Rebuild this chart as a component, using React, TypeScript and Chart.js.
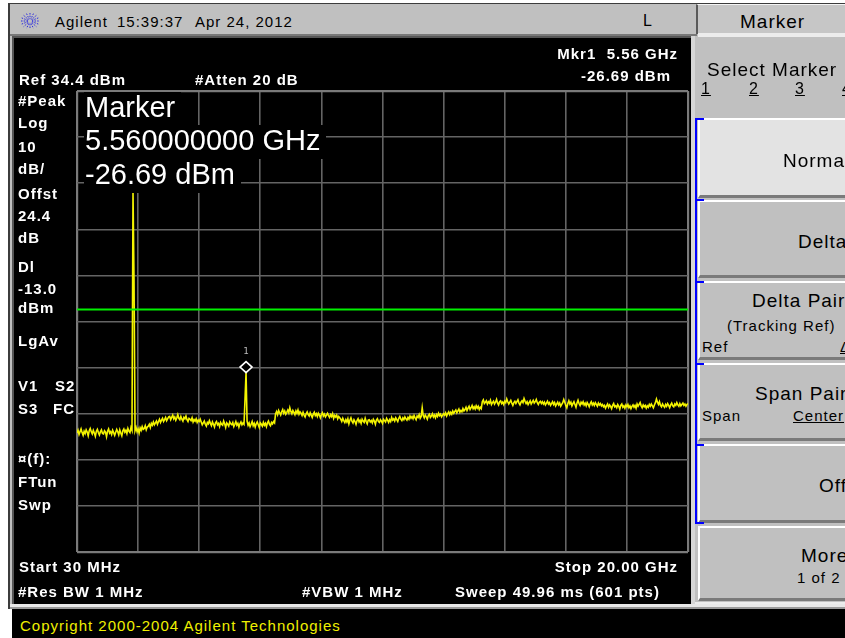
import React, { useEffect, useRef } from "react";
import { Chart, registerables } from "chart.js";

Chart.register(...registerables);

// ---- sweep / scale settings ----
const START_GHZ = 0.03;
const STOP_GHZ = 20.0;
const SWEEP_POINTS = 601;
const REF_LEVEL_DBM = 34.4;
const SCALE_DB_PER_DIV = 10;
const GRID_DIVISIONS = 10;
const DISPLAY_LINE_DBM = -13.0;
const MARKER_INDEX = 166;
const MARKER_NAME = "1";

// ---- trace (601 points, dBm) ----
const TRACE_DBM: number[] = [
  -39.8, -39.2, -40.1, -39.5, -38.9, -39.7, -40.3, -39.4, -39.9, -39.1,
  -39.6, -40.4, -39.3, -38.8, -39.5, -40.0, -39.2, -39.8, -40.5, -39.4,
  -39.0, -39.7, -40.2, -39.5, -39.1, -39.9, -40.0, -39.3, -39.6, -40.6,
  -39.4, -38.9, -39.8, -39.5, -40.1, -39.2, -39.7, -40.3, -39.6, -39.0,
  -39.5, -40.2, -39.1, -39.8, -40.4, -39.3, -38.9, -39.6, -39.2, -39.9,
  -38.8, -39.4, -39.7, -38.6, -39.2,
  12.6, -7.0,
  -39.3, -38.6, -39.5, -38.9, -39.8, -38.7, -39.2, -38.4, -39.0, -38.8, -38.2, -39.1, -38.5,
  -38.3, -37.9, -38.6, -37.7, -38.1, -37.4, -38.0, -37.6, -37.2, -37.9,
  -37.3, -36.8, -37.5, -37.0, -36.6, -37.3, -36.9, -36.4, -37.1, -36.7, -36.3,
  -36.2, -36.9, -36.4, -35.9, -36.7, -36.3, -37.0, -36.5, -35.8, -36.6,
  -36.9, -36.2, -36.8, -37.2, -36.4, -36.7, -36.1, -36.9, -37.3, -36.6,
  -36.8, -37.1, -36.5, -37.4, -36.9, -37.2, -36.7, -37.5, -37.0, -37.3,
  -36.8,
  -37.4, -38.0, -37.6, -37.2, -37.9, -38.3, -37.5, -37.8, -37.1, -37.7,
  -38.2, -37.4, -37.9, -38.5, -37.6, -37.3, -38.0, -37.7, -38.4, -37.5,
  -37.9, -38.1, -37.2, -37.8, -38.6, -37.6, -37.9, -38.3, -37.4, -37.8,
  -38.0, -37.5, -38.4, -37.9, -37.3, -38.1, -37.7, -38.5, -37.8, -37.4,
  -38.0, -37.6, -37.9,
  -32.4, -26.69,
  -37.2, -38.1, -37.6, -38.4, -37.9, -37.3, -38.2, -37.7, -38.5, -37.8,
  -37.4, -38.0, -38.6, -37.6, -37.9, -38.3, -37.5, -38.1, -37.7, -38.4,
  -37.6, -37.2, -37.9, -38.2, -37.5, -37.8, -37.3, -37.6,
  -35.6, -35.1, -35.8, -34.9, -35.4, -35.9, -35.2, -34.7, -35.5, -35.0,
  -35.7, -35.3, -34.8, -35.4, -34.3, -35.1, -35.6, -34.9, -35.3, -35.8,
  -35.0, -35.5, -34.8, -35.7, -35.2,
  -35.5, -36.0, -35.3, -35.9, -36.3, -35.6, -35.2, -35.8, -36.1, -35.4,
  -35.9, -36.4, -35.7, -35.3, -36.0, -35.6, -36.2, -35.5, -35.9, -36.5,
  -35.8, -35.4, -36.1, -35.7, -36.3, -35.9, -35.5, -36.0, -36.4, -35.8,
  -36.2, -35.6, -36.6, -36.0, -36.3, -35.9, -36.7, -36.2, -36.5,
  -36.8, -37.3, -36.6, -37.1, -37.5, -36.9, -37.4, -36.7, -37.8, -37.0,
  -36.5, -37.2, -37.6, -36.9, -37.3, -37.9, -37.1, -36.7, -37.4, -37.0,
  -37.7, -36.8, -37.2, -37.5, -36.6, -37.3, -37.8, -37.0, -36.9, -37.4,
  -37.1, -37.6, -36.8, -37.2, -37.9, -37.0, -36.7, -37.3, -37.5, -36.9,
  -37.2, -37.7, -36.8, -37.1, -37.4, -36.6, -37.0, -37.5, -36.9, -37.3,
  -36.4, -37.0, -36.7, -37.2, -36.5, -36.9, -37.3, -36.6, -36.2, -36.8,
  -37.1, -36.5, -36.9, -36.3, -36.7, -37.0, -36.4, -36.8, -36.1, -36.6,
  -36.2, -36.7, -36.0, -36.5, -36.9, -36.1, -36.4, -35.8, -36.6, -36.2,
  -34.3, -36.0, -36.5, -35.9, -36.3, -36.8, -36.0, -35.7, -36.4, -36.1,
  -35.6, -36.3, -35.9, -36.5, -35.8, -36.2, -35.5, -36.0, -35.7, -36.3,
  -35.9, -35.6,
  -35.9, -35.4, -36.1, -35.6, -35.2, -35.8, -35.3, -35.7, -35.0, -35.5,
  -35.1, -34.8, -35.4, -35.0, -34.6, -35.3, -34.9, -35.2, -34.5, -35.0,
  -34.7, -34.2, -34.9, -34.4, -34.0, -34.7, -34.3, -33.8, -34.5, -34.1,
  -34.6, -33.9, -34.4, -34.0, -34.7, -34.2, -34.5,
  -33.0, -32.6, -33.4, -33.1, -32.8, -33.5, -33.0, -33.3, -32.7, -33.6,
  -33.2, -32.9, -33.5, -33.1, -32.5, -33.3, -33.7, -33.0, -32.8, -33.4,
  -33.1, -33.6, -32.9, -33.2, -32.4, -33.0, -33.5, -33.1, -32.7, -33.3,
  -33.8, -33.2, -32.9, -33.4, -33.0, -32.6, -33.3, -33.7, -33.1, -32.8,
  -33.2, -32.3, -32.9, -33.4, -33.0, -33.6, -33.2, -32.8, -33.5, -33.1,
  -32.7, -33.3, -33.0, -32.5, -33.2, -33.6, -33.1, -32.9, -33.4, -33.0,
  -33.5, -33.1, -33.7, -33.3, -32.9, -33.5, -33.2, -33.8, -33.4, -33.0,
  -33.6, -33.2, -33.9, -33.5, -33.1, -33.7, -33.3, -34.0, -33.6, -33.2,
  -32.5, -33.1, -33.8, -34.3, -33.4, -32.8, -33.5, -33.1, -33.9, -33.4,
  -33.0, -33.6, -34.2, -33.3, -32.7, -33.4, -33.8, -33.1, -33.5, -33.0,
  -33.7, -33.3, -33.9, -33.2, -33.6, -34.1, -33.4, -33.0, -33.7, -33.3,
  -33.8, -33.2, -33.6, -34.0, -33.3, -33.7, -33.4, -33.9,
  -33.6, -34.1, -33.8, -34.4, -33.9, -33.5, -34.2, -33.7, -34.0, -34.5,
  -33.8, -33.4, -34.1, -33.9, -34.3, -33.6, -34.0, -34.6, -33.8, -33.5,
  -34.2, -33.9, -34.4, -33.7, -34.1, -33.6, -34.3, -33.9, -34.5, -34.0,
  -33.7, -34.2, -33.8, -34.4, -33.5, -34.0, -33.6, -33.2, -33.9, -34.3,
  -33.7, -34.1, -33.8, -34.4, -33.9, -34.2, -33.6, -34.0, -33.5, -33.9,
  -34.3, -33.7, -33.2, -32.4, -33.1, -33.6, -33.0, -33.8, -34.1, -33.5,
  -33.9, -34.2, -33.6, -34.0, -33.4, -33.8, -34.3, -33.7, -33.3, -33.9,
  -34.1, -33.5, -33.8, -33.2, -33.7, -34.0, -33.4, -33.9, -33.6, -33.3,
  -33.8, -33.5, -34.0, -33.6, -33.4,
];

// ---- annotation texts ----
const TITLE_BRAND = "Agilent";
const TITLE_TIME = "15:39:37";
const TITLE_DATE = "Apr 24, 2012";
const MARKER_READOUT = ["Marker", "5.560000000 GHz", "-26.69 dBm"];
const COPYRIGHT = "Copyright 2000-2004 Agilent Technologies";

const FONT = '"Liberation Sans", Arial, Helvetica, sans-serif';
const W = 845;

function sweepFreq(i: number) {
  return START_GHZ + (i * (STOP_GHZ - START_GHZ)) / (SWEEP_POINTS - 1);
}

type TxtProps = {
  x?: number;
  r?: number;
  y: number;
  size?: number;
  bold?: boolean;
  color?: string;
  ls?: number;
  u?: boolean;
  children: React.ReactNode;
};

function Txt({ x, r, y, size = 15, bold = true, color = "#fff", ls = 1, u = false, children }: TxtProps) {
  const lh = size + 6;
  const style: React.CSSProperties = {
    position: "absolute",
    top: y - lh / 2,
    height: lh,
    lineHeight: lh + "px",
    fontSize: size,
    fontWeight: bold ? 700 : 400,
    color,
    letterSpacing: ls,
    whiteSpace: "pre",
    fontFamily: FONT,
    textDecoration: u ? "underline" : "none",
    zIndex: 5,
  };
  if (r !== undefined) style.right = W - r;
  else style.left = x;
  return <div style={style}>{children}</div>;
}

function Box({ x, y, w, h, bg, style }: { x: number; y: number; w: number; h: number; bg?: string; style?: React.CSSProperties }) {
  return (
    <div
      style={{
        position: "absolute",
        left: x,
        top: y,
        width: w,
        height: h,
        background: bg,
        boxSizing: "border-box",
        ...style,
      }}
    />
  );
}

const keyBorder: React.CSSProperties = {
  borderTop: "2px solid #ffffff",
  borderLeft: "2px solid #ffffff",
  borderBottom: "3px solid #7a7a7a",
};

const markerPlugin = {
  id: "markerDiamond",
  afterDatasetsDraw(chart: any) {
    const { ctx, scales } = chart;
    const px = scales.x.getPixelForValue(sweepFreq(MARKER_INDEX));
    const py = scales.y.getPixelForValue(TRACE_DBM[MARKER_INDEX]);
    const rx = 6;
    const ry = 5.5;
    ctx.save();
    ctx.beginPath();
    ctx.moveTo(px, py - 2 * ry);
    ctx.lineTo(px + rx, py - ry);
    ctx.lineTo(px, py);
    ctx.lineTo(px - rx, py - ry);
    ctx.closePath();
    ctx.fillStyle = "#000";
    ctx.fill();
    ctx.strokeStyle = "#ffffff";
    ctx.lineWidth = 1.6;
    ctx.stroke();
    ctx.fillStyle = "#bdbdbd";
    ctx.font = '9px "DejaVu Sans Mono", monospace';
    ctx.textAlign = "center";
    ctx.textBaseline = "middle";
    ctx.fillText(MARKER_NAME, px, py - 2 * ry - 10);
    ctx.restore();
  },
};

function tenDivisions(axis: any) {
  const ticks = [];
  for (let k = 0; k <= GRID_DIVISIONS; k++) {
    ticks.push({ value: axis.min + (k * (axis.max - axis.min)) / GRID_DIVISIONS });
  }
  axis.ticks = ticks;
}

const gridColor = (c: any) => (c.index === 0 || c.index === GRID_DIVISIONS ? "#7a7a7a" : "#646464");
const gridWidth = (c: any) => (c.index === 0 || c.index === GRID_DIVISIONS ? 2.2 : 1.6);

function Analyzer() {
  const ref = useRef<HTMLCanvasElement | null>(null);
  useEffect(() => {
    if (!ref.current) return;
    const trace = TRACE_DBM.map((v, i) => ({ x: sweepFreq(i), y: v }));
    const chart = new Chart(ref.current, {
      type: "line",
      data: {
        datasets: [
          {
            data: [
              { x: START_GHZ, y: DISPLAY_LINE_DBM },
              { x: STOP_GHZ, y: DISPLAY_LINE_DBM },
            ],
            borderColor: "#00f000",
            borderWidth: 1.8,
            pointRadius: 0,
            order: 0,
          },
          {
            data: trace,
            borderColor: "#f4f400",
            borderWidth: 1.6,
            pointRadius: 0,
            tension: 0,
            order: 1,
          },
        ],
      },
      options: {
        responsive: false,
        animation: false,
        events: [],
        layout: { padding: { left: 63, top: 53, right: 3, bottom: 52 } },
        plugins: { legend: { display: false }, tooltip: { enabled: false } },
        scales: {
          x: {
            type: "linear",
            min: START_GHZ,
            max: STOP_GHZ,
            afterBuildTicks: tenDivisions,
            ticks: { display: false },
            border: { display: false },
            grid: { drawTicks: false, color: gridColor, lineWidth: gridWidth },
          },
          y: {
            type: "linear",
            min: REF_LEVEL_DBM - SCALE_DB_PER_DIV * GRID_DIVISIONS,
            max: REF_LEVEL_DBM,
            afterBuildTicks: tenDivisions,
            ticks: { display: false },
            border: { display: false },
            grid: { drawTicks: false, color: gridColor, lineWidth: gridWidth },
          },
        },
      },
      plugins: [markerPlugin],
    } as any);
    return () => chart.destroy();
  }, []);
  return (
    <canvas
      ref={ref}
      width={677}
      height={566}
      style={{ position: "absolute", left: 14, top: 38, width: 677, height: 566, zIndex: 2 }}
    />
  );
}

function Logo() {
  const spokes = [0, 22.5, 45, 67.5, 90, 112.5, 135, 157.5];
  return (
    <svg width="22" height="20" viewBox="-11 -10 22 20" style={{ position: "absolute", left: 19, top: 11, zIndex: 5 }}>
      {spokes.map((a) => {
        const rad = (a * Math.PI) / 180;
        return (
          <line
            key={a}
            x1={-9 * Math.cos(rad)}
            y1={-8 * Math.sin(rad)}
            x2={9 * Math.cos(rad)}
            y2={8 * Math.sin(rad)}
            stroke="#2a2ae0"
            strokeWidth="1"
            strokeDasharray="1.5 1.2"
          />
        );
      })}
      <circle cx="0" cy="0" r="2" fill="#c0c0c0" />
    </svg>
  );
}

export default function App() {
  const readoutTops = [92, 125, 159];
  return (
    <div
      style={{
        position: "absolute",
        left: 0,
        top: 0,
        width: W,
        height: 638,
        overflow: "hidden",
        background: "#ffffff",
        fontFamily: FONT,
      }}
    >
      {/* instrument frame */}
      <Box x={8} y={3} w={840} h={606} bg="#c0c0c0" style={{ borderLeft: "2px solid #3c3c3c", borderTop: "1px solid #3c3c3c" }} />
      {/* title bar */}
      <Logo />
      <Txt x={55} y={21} size={15} bold={false} color="#000">{TITLE_BRAND}</Txt>
      <Txt x={117} y={21} size={15} bold={false} color="#000">{TITLE_TIME}</Txt>
      <Txt x={195} y={21} size={15} bold={false} color="#000">{TITLE_DATE}</Txt>
      <Txt x={643} y={21} size={16} bold={false} color="#000">L</Txt>
      <Box x={10} y={34} w={687} h={2} bg="#787878" />
      {/* menu title */}
      <Box x={696} y={4} w={152} h={30} bg="#c6c6c6" style={{ borderLeft: "2px solid #5a5a5a", borderTop: "1px solid #f4f4f4" }} />
      <Box x={698} y={33} w={150} h={4} bg="#ececec" />
      <Txt x={740} y={21} size={19} bold={false} color="#000">Marker</Txt>

      {/* screen */}
      <Box x={12} y={36} w={681} h={570} bg="#565656" />
      <Box x={14} y={38} w={677} h={566} bg="#000000" />
      <Box x={691} y={36} w={4} h={570} bg="#d6d6d6" />
      <Analyzer />

      {/* screen annotations */}
      <Txt r={678} y={53}>Mkr1  5.56 GHz</Txt>
      <Txt r={671} y={75}>-26.69 dBm</Txt>
      <Txt x={19} y={79}>Ref 34.4 dBm</Txt>
      <Txt x={195} y={79}>#Atten 20 dB</Txt>

      <Txt x={18} y={100}>#Peak</Txt>
      <Txt x={18} y={122}>Log</Txt>
      <Txt x={18} y={146}>10</Txt>
      <Txt x={18} y={168}>dB/</Txt>
      <Txt x={18} y={193}>Offst</Txt>
      <Txt x={18} y={215}>24.4</Txt>
      <Txt x={18} y={237}>dB</Txt>
      <Txt x={18} y={266}>Dl</Txt>
      <Txt x={18} y={288}>-13.0</Txt>
      <Txt x={18} y={307}>dBm</Txt>
      <Txt x={18} y={340}>LgAv</Txt>
      <Txt x={18} y={385}>V1</Txt>
      <Txt x={55} y={385}>S2</Txt>
      <Txt x={18} y={408}>S3</Txt>
      <Txt x={53} y={408}>FC</Txt>
      <Txt x={18} y={458}>¤(f):</Txt>
      <Txt x={18} y={481}>FTun</Txt>
      <Txt x={18} y={504}>Swp</Txt>

      <Txt x={19} y={566}>Start 30 MHz</Txt>
      <Txt r={678} y={566}>Stop 20.00 GHz</Txt>
      <Txt x={18} y={591}>#Res BW 1 MHz</Txt>
      <Txt x={302} y={591}>#VBW 1 MHz</Txt>
      <Txt x={455} y={591}>Sweep 49.96 ms (601 pts)</Txt>

      {/* large marker readout */}
      {MARKER_READOUT.map((t, i) => (
        <div
          key={t}
          style={{
            position: "absolute",
            left: 84,
            top: readoutTops[i],
            height: 34,
            lineHeight: "30px",
            paddingLeft: 1,
            paddingRight: 6,
            background: "#000",
            color: "#fff",
            fontFamily: FONT,
            fontSize: 29,
            whiteSpace: "pre",
            zIndex: 4,
          }}
        >
          {t}
        </div>
      ))}

      {/* soft key panel */}
      <Box x={695} y={37} w={150} h={568} bg="#c0c0c0" />
      <Txt x={707} y={69} size={19} bold={false} color="#000">Select Marker</Txt>
      <Txt x={701} y={89} size={16} bold={false} color="#000" u>1</Txt>
      <Txt x={749} y={89} size={16} bold={false} color="#000" u>2</Txt>
      <Txt x={795} y={89} size={16} bold={false} color="#000" u>3</Txt>
      <Txt x={842} y={89} size={16} bold={false} color="#000" u>4</Txt>

      <Box x={698} y={118} w={160} h={80} bg="#e3e3e3" style={keyBorder} />
      <Box x={698} y={200} w={160} h={78} bg="#c0c0c0" style={keyBorder} />
      <Box x={698} y={281} w={160} h={79} bg="#c0c0c0" style={keyBorder} />
      <Box x={698} y={363} w={160} h={78} bg="#c0c0c0" style={keyBorder} />
      <Box x={698} y={444} w={160} h={79} bg="#c0c0c0" style={keyBorder} />
      <Box x={698} y={526} w={160} h={75} bg="#c0c0c0" style={keyBorder} />
      <Box x={695} y={602} w={150} h={3} bg="#ececec" />

      {/* blue bracket */}
      <Box x={695} y={118} w={2} h={406} bg="#0000ff" style={{ zIndex: 6 }} />
      {[118, 199, 281, 363, 444, 522].map((t) => (
        <Box key={t} x={695} y={t} w={9} h={2} bg="#0000ff" style={{ zIndex: 6 }} />
      ))}

      <Txt x={783} y={160} size={19} bold={false} color="#000">Normal</Txt>
      <Txt x={798} y={241} size={19} bold={false} color="#000">Delta</Txt>
      <Txt x={752} y={300} size={19} bold={false} color="#000">Delta Pair</Txt>
      <Txt x={727} y={325} size={15} bold={false} color="#000">(Tracking Ref)</Txt>
      <Txt x={702} y={346} size={15} bold={false} color="#000">Ref</Txt>
      <Txt x={840} y={346} size={15} bold={false} color="#000" u>Δ</Txt>
      <Txt x={755} y={393} size={19} bold={false} color="#000">Span Pair</Txt>
      <Txt x={702} y={415} size={15} bold={false} color="#000">Span</Txt>
      <Txt x={793} y={415} size={15} bold={false} color="#000" u>Center</Txt>
      <Txt x={819} y={485} size={19} bold={false} color="#000">Off</Txt>
      <Txt x={801} y={555} size={19} bold={false} color="#000">More</Txt>
      <Txt x={797} y={577} size={15} bold={false} color="#000">1 of 2</Txt>

      {/* status bar */}
      <Box x={10} y={604} w={835} h={3} bg="#e8e8e8" />
      <Box x={10} y={607} w={835} h={2} bg="#9a9a9a" />
      <Box x={12} y={609} w={833} h={29} bg="#000000" />
      <Txt x={20} y={625} size={15} bold={false} color="#f0f000">{COPYRIGHT}</Txt>
    </div>
  );
}
